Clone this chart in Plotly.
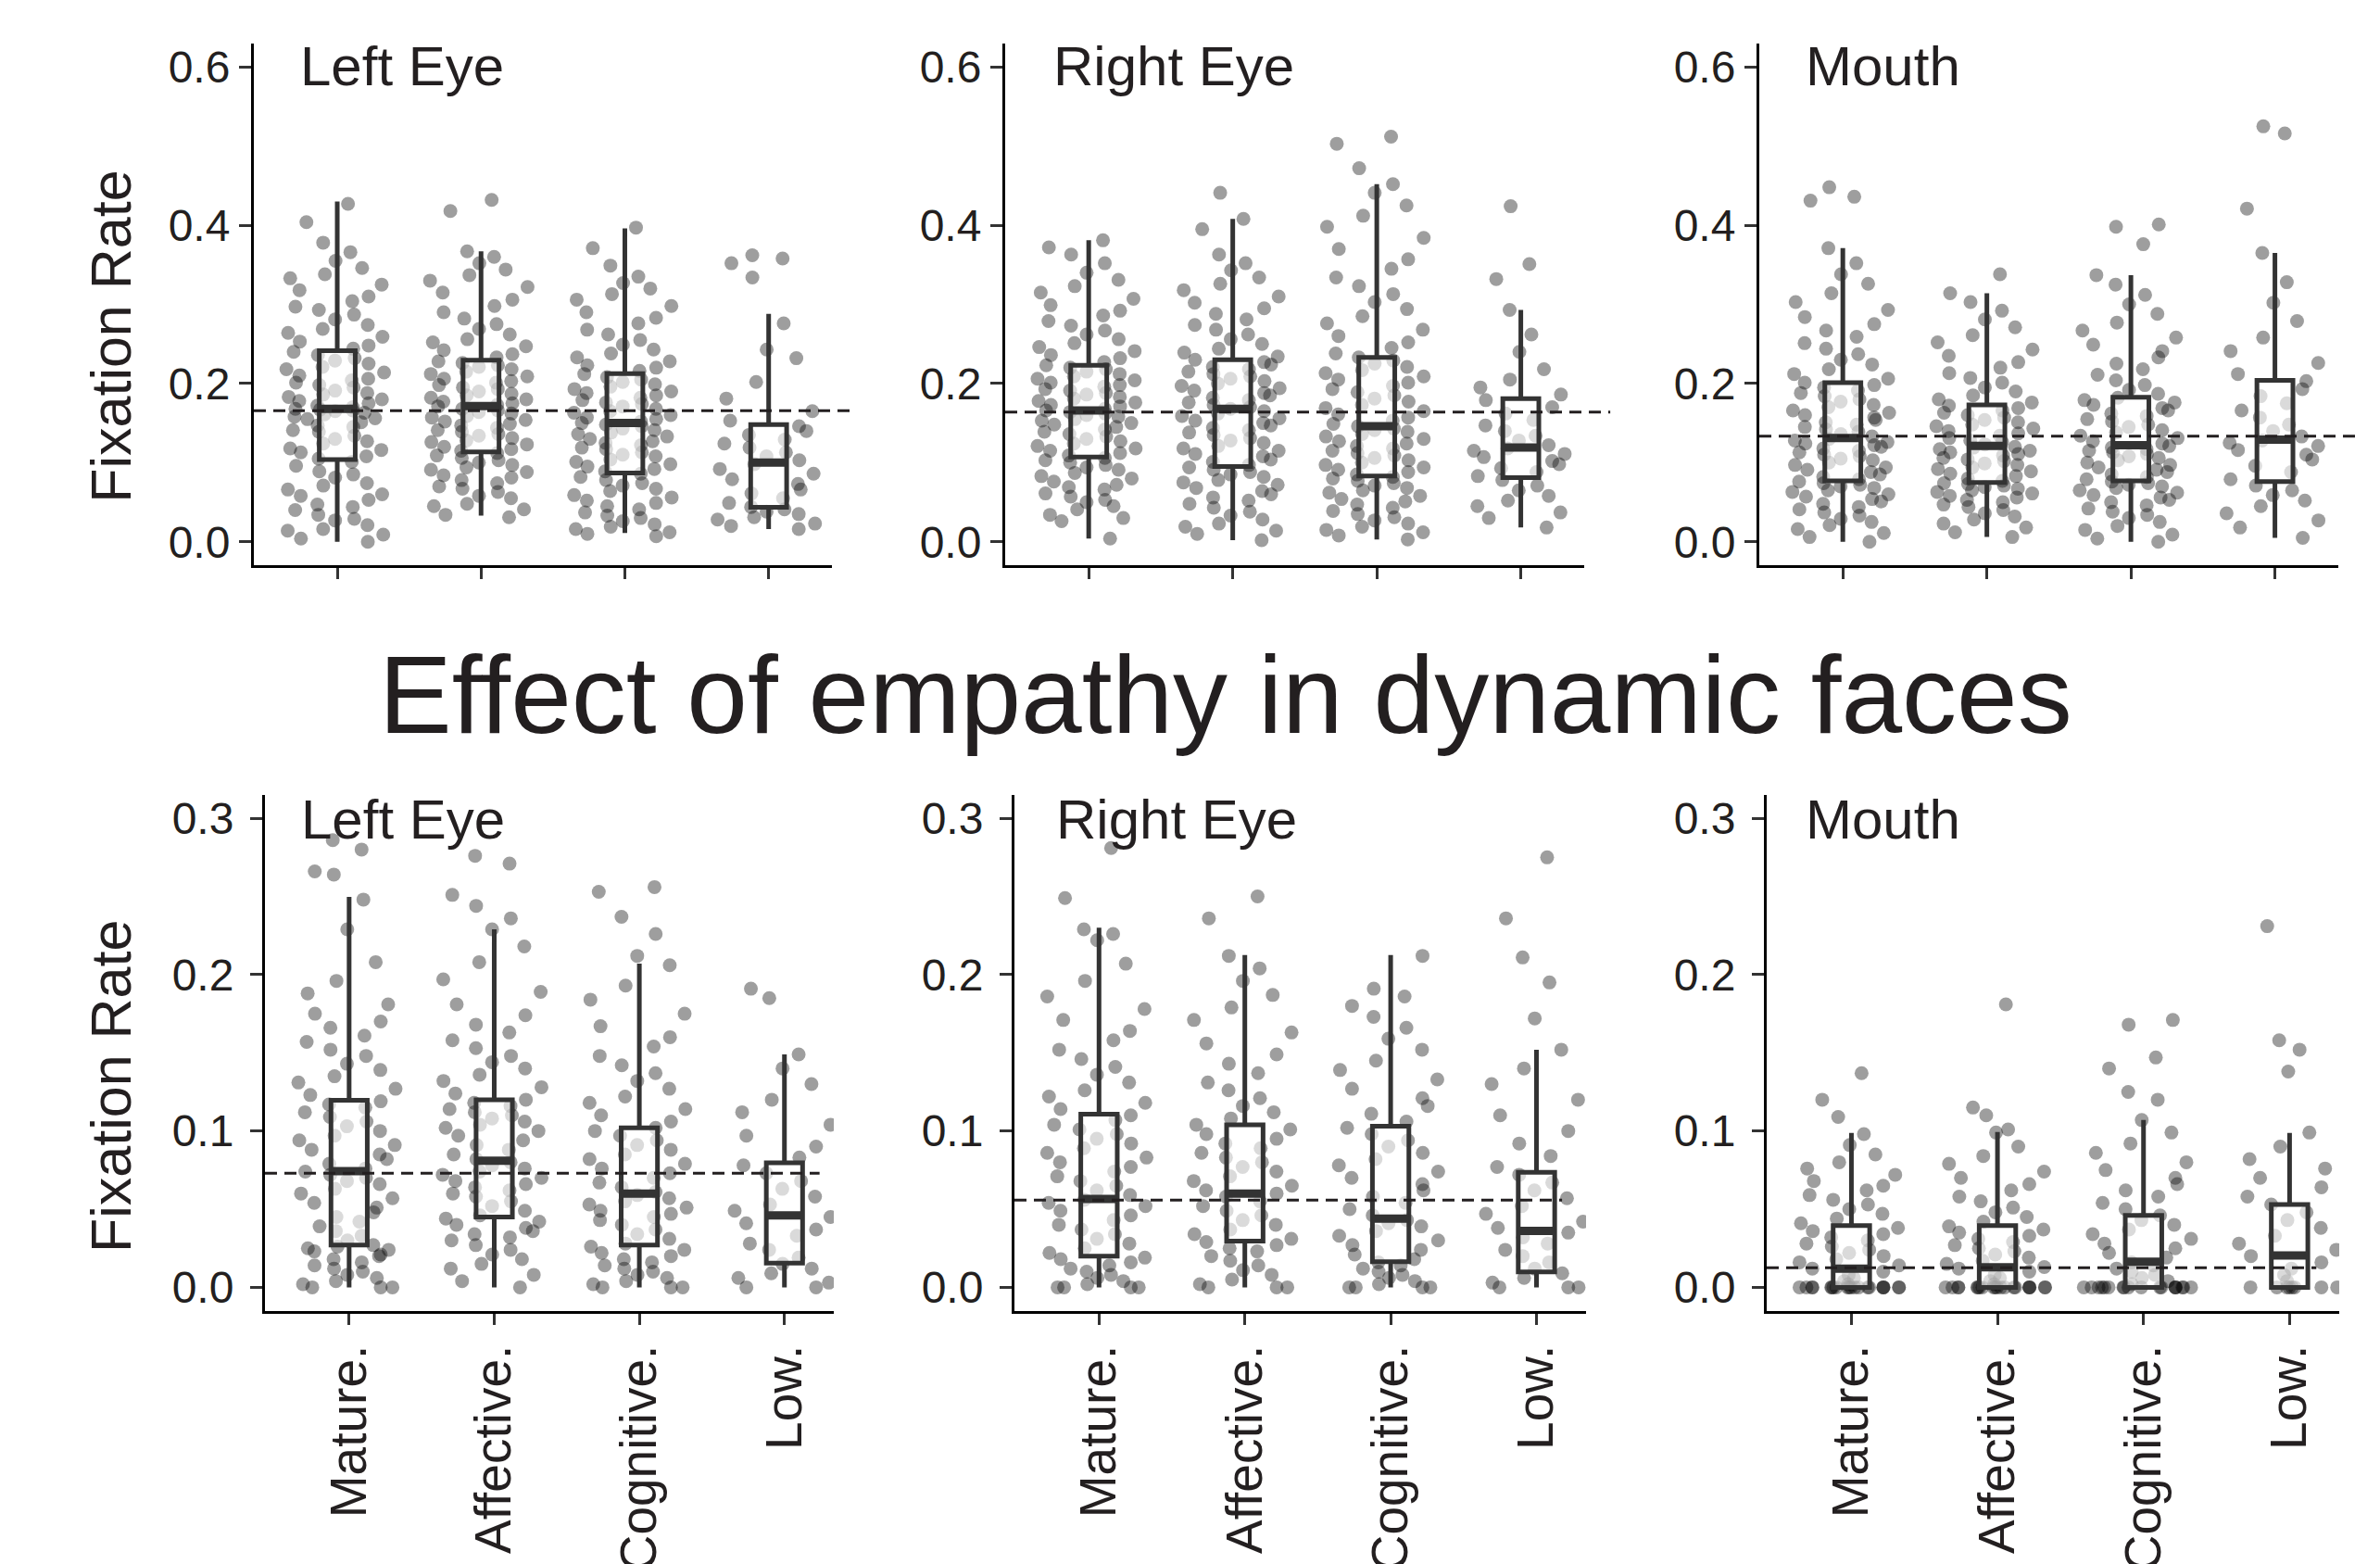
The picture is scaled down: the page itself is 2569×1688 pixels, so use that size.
import numpy as np
import plotly.graph_objects as go

W, H = 2569, 1688

categories = ["Mature.", "Affective.", "Cognitive.", "Low."]
panel_titles = ["Left Eye", "Right Eye", "Mouth"]
row_title = "Effect of empathy in dynamic faces"
y_title = "Fixation Rate"
top_tickvals = [0.0, 0.2, 0.4, 0.6]
top_ticktext = ["0.0", "0.2", "0.4", "0.6"]
bottom_tickvals = [0.0, 0.1, 0.2, 0.3]
bottom_ticktext = ["0.0", "0.1", "0.2", "0.3"]

# ---------------- static faces (top row) ----------------
# Left eye
sle_q1 = [0.104, 0.1135, 0.087, 0.0435]
sle_median = [0.168, 0.1715, 0.150, 0.100]
sle_q3 = [0.2415, 0.2295, 0.2126, 0.148]
sle_low = [0.0, 0.033, 0.011, 0.016]
sle_high = [0.430, 0.367, 0.396, 0.288]
sle_overall = 0.1657
sle_mature = [0, .004, .009, .014, .016, .021, .027, .029, .034, .040, .044, .047, .053, .058, .060, .066, .071, .074, .081, .085, .089, .096, .101,
              .105, .108, .113, .116, .118, .124, .127, .130, .134, .139, .141, .145, .147, .151, .155, .156, .158, .161, .163, .165, .166, .167, .168,
              .170, .172, .175, .178, .180, .183, .186, .188, .191, .195, .198, .201, .204, .206, .210, .214, .218, .221, .225, .229, .232, .236, .240,
              .244, .248, .253, .259, .264, .269, .274, .281, .287, .293, .297, .304, .310, .318, .325, .333, .338, .346, .355, .366, .378, .404, .427]
sle_affective = [.031, .034, .041, .045, .048, .055, .058, .063, .067, .070, .074, .078, .081, .084, .088, .091, .094, .097, .100, .103, .106, .109, .112,
                 .115, .117, .120, .123, .126, .128, .131, .134, .136, .139, .141, .144, .147, .149, .152, .154, .157, .159, .162, .164, .166, .168, .171,
                 .173, .175, .177, .180, .182, .185, .187, .190, .193, .195, .198, .201, .203, .206, .209, .212, .215, .218, .221, .223, .226, .228,
                 .233, .237, .242, .247, .252, .256, .262, .269, .275, .282, .290, .298, .306, .315, .322, .330, .337, .344, .352, .360, .367, .418, .432]
sle_cognitive = [.007, .010, .012, .016, .019, .022, .026, .030, .033, .037, .041, .045, .049, .052, .056, .059, .064, .067, .071, .074, .078, .082, .086,
                 .089, .092, .095, .098, .101, .104, .108, .110, .113, .117, .119, .122, .125, .127, .130, .133, .136, .138, .141, .143, .146, .148, .150,
                 .152, .155, .157, .160, .163, .165, .168, .171, .174, .176, .179, .182, .185, .188, .190, .193, .196, .199, .202, .205, .208, .212,
                 .216, .220, .223, .228, .233, .238, .243, .249, .255, .262, .268, .276, .283, .290, .298, .306, .313, .320, .327, .335, .349, .371, .397]
sle_lowgrp = [.016, .020, .023, .028, .031, .035, .038, .041, .044,
              .049, .055, .061, .066, .073, .079, .086, .092, .098,
              .103, .108, .113, .119, .124, .129, .135, .140, .146,
              .153, .165, .181, .202, .232, .243, .276, .334, .352, .358, .362]

# Right eye
sre_q1 = [0.107, 0.095, 0.083, 0.081]
sre_median = [0.166, 0.168, 0.146, 0.119]
sre_q3 = [0.223, 0.230, 0.233, 0.181]
sre_low = [0.004, 0.002, 0.003, 0.018]
sre_high = [0.381, 0.408, 0.452, 0.293]
sre_overall = 0.164
sre_mature = [.004, .026, .030, .034, .041, .045, .050, .053, .057, .061, .066, .069, .072, .076, .080, .083, .087, .091, .094, .097, .100, .103, .106,
              .109, .112, .115, .118, .121, .124, .127, .130, .133, .136, .139, .142, .145, .148, .150, .153, .155, .158, .160, .162, .164, .166,
              .168, .171, .173, .176, .178, .181, .183, .186, .188, .191, .193, .196, .198, .201, .204, .206, .209, .212, .215, .218, .220, .223,
              .227, .232, .236, .241, .246, .251, .256, .262, .267, .273, .279, .286, .292, .299, .307, .315, .323, .331, .340, .352, .363, .372, .381]
sre_affective = [.002, .010, .014, .019, .023, .028, .033, .038, .043, .048, .052, .056, .060, .064, .068, .072, .075, .078, .082, .085, .088, .091, .094,
                 .097, .101, .104, .108, .111, .115, .118, .121, .125, .128, .131, .135, .138, .141, .144, .147, .150, .153, .156, .159, .162, .165, .168,
                 .170, .173, .176, .179, .182, .185, .188, .191, .194, .197, .200, .203, .206, .209, .212, .215, .218, .221, .224, .227, .230,
                 .234, .239, .244, .250, .256, .262, .268, .274, .281, .288, .295, .302, .310, .318, .326, .334, .343, .352, .363, .395, .408, .441]
sre_cognitive = [.003, .008, .012, .015, .019, .023, .027, .031, .035, .039, .043, .047, .051, .054, .058, .062, .065, .068, .071, .074, .077, .080, .082,
                 .085, .088, .091, .094, .097, .100, .103, .106, .109, .112, .115, .118, .121, .124, .127, .130, .133, .136, .139, .141, .143, .146,
                 .149, .153, .157, .161, .165, .169, .173, .177, .181, .185, .189, .193, .197, .201, .205, .209, .213, .217, .221, .225, .229, .233,
                 .238, .245, .252, .260, .268, .276, .285, .294, .303, .313, .323, .334, .345, .357, .370, .384, .398, .412, .425, .441, .452, .472, .503, .512]
sre_lowgrp = [.018, .030, .037, .045, .052, .058, .065, .071, .078,
              .083, .088, .093, .098, .102, .107, .111, .115, .118,
              .122, .128, .134, .140, .147, .154, .162, .170, .179,
              .186, .195, .205, .218, .240, .262, .293, .332, .351, .424]

# Mouth
smo_q1 = [0.077, 0.075, 0.077, 0.076]
smo_median = [0.131, 0.121, 0.122, 0.129]
smo_q3 = [0.201, 0.173, 0.1825, 0.204]
smo_low = [0.0, 0.006, 0.0, 0.005]
smo_high = [0.371, 0.314, 0.337, 0.365]
smo_overall = 0.1333
smo_mature = [0, .006, .011, .016, .021, .025, .029, .033, .037, .041, .044, .048, .051, .054, .057, .060, .063, .065, .068, .070, .072, .074, .076,
              .079, .082, .085, .088, .091, .094, .097, .100, .103, .105, .108, .110, .113, .115, .118, .120, .122, .124, .126, .128, .130,
              .133, .136, .139, .142, .145, .148, .151, .154, .157, .160, .163, .166, .170, .173, .177, .180, .184, .188, .191, .195, .198, .201,
              .206, .212, .218, .224, .230, .237, .244, .251, .259, .267, .275, .284, .293, .303, .314, .326, .338, .352, .371, .431, .436, .448]
smo_affective = [.006, .012, .018, .023, .028, .032, .036, .040, .044, .047, .050, .053, .056, .058, .061, .063, .065, .067, .069, .071, .073, .074,
                 .077, .080, .083, .086, .089, .092, .094, .097, .099, .102, .104, .106, .109, .111, .113, .115, .117, .119, .120,
                 .123, .126, .128, .131, .134, .137, .140, .143, .146, .148, .151, .154, .157, .160, .163, .166, .169, .172,
                 .176, .180, .185, .190, .195, .201, .207, .213, .220, .227, .235, .243, .252, .261, .271, .281, .292, .303, .314, .338]
smo_cognitive = [0, .004, .009, .015, .020, .025, .030, .034, .038, .042, .046, .050, .053, .056, .059, .062, .065, .068, .070, .072, .074, .076,
                 .079, .082, .085, .088, .091, .094, .097, .100, .103, .106, .108, .111, .113, .115, .117, .119, .121,
                 .124, .127, .131, .134, .138, .141, .145, .148, .152, .155, .159, .162, .166, .169, .173, .176, .179, .182,
                 .187, .192, .198, .204, .211, .218, .225, .233, .241, .249, .258, .267, .277, .288, .300, .312, .325, .337, .376, .398, .401]
smo_lowgrp = [.005, .018, .027, .036, .045, .052, .059, .065, .071,
              .079, .088, .096, .104, .110, .116, .121, .125, .128,
              .133, .140, .148, .157, .166, .175, .184, .193, .203,
              .212, .226, .241, .258, .279, .302, .328, .365, .421, .516, .525]

# ---------------- dynamic faces (bottom row) ----------------
# Left eye
dle_q1 = [0.027, 0.045, 0.027, 0.0155]
dle_median = [0.0743, 0.081, 0.060, 0.046]
dle_q3 = [0.1197, 0.120, 0.102, 0.0796]
dle_low = [0.0, 0.0, 0.0, 0.0]
dle_high = [0.2497, 0.229, 0.207, 0.149]
dle_overall = 0.073
dle_mature = [0, 0, 0, .002, .004, .006, .008, .010, .012, .014, .016, .018, .020, .021, .023, .024, .025, .026, .027,
              .030, .033, .036, .039, .042, .045, .048, .051, .054, .057, .060, .063, .066, .068, .070, .072, .074,
              .076, .079, .082, .085, .088, .091, .094, .097, .100, .103, .106, .109, .112, .115, .117, .119,
              .123, .127, .131, .135, .139, .143, .148, .152, .157, .161, .166, .170, .175, .181, .188, .196, .208, .229, .248, .264, .266, .280, .286]
dle_affective = [0, .004, .008, .012, .015, .018, .021, .024, .027, .030, .032, .034, .036, .038, .040, .042, .044,
                 .046, .049, .052, .055, .058, .060, .062, .064, .066, .068, .070, .072, .074, .076, .078, .080,
                 .082, .085, .088, .091, .094, .097, .100, .102, .104, .106, .108, .110, .112, .114, .116, .118, .120,
                 .124, .128, .132, .136, .140, .144, .148, .153, .158, .163, .168, .174, .181, .189, .197, .208, .218, .229, .236, .244, .251, .271, .276]
dle_cognitive = [0, 0, 0, .002, .004, .006, .008, .010, .012, .014, .016, .018, .020, .022, .024, .026,
                 .028, .031, .034, .037, .040, .043, .045, .047, .049, .051, .053, .055, .057, .059,
                 .061, .064, .067, .070, .073, .076, .079, .082, .085, .088, .091, .094, .097, .100, .102,
                 .106, .110, .114, .118, .122, .127, .132, .137, .142, .148, .154, .160, .167, .175, .184, .193, .206, .212, .226, .237, .253, .256]
dle_lowgrp = [0, 0, .003, .006, .009, .012, .015,
              .019, .024, .028, .033, .037, .041, .045,
              .049, .053, .058, .063, .068, .073, .078,
              .083, .090, .097, .104, .112, .120, .130, .140, .149, .185, .191]

# Right eye
dre_q1 = [0.020, 0.0296, 0.0164, 0.0099]
dre_median = [0.0565, 0.060, 0.044, 0.0361]
dre_q3 = [0.1107, 0.104, 0.103, 0.0736]
dre_low = [0.0, 0.0, 0.0, 0.0]
dre_high = [0.230, 0.2125, 0.2125, 0.152]
dre_overall = 0.0558
dre_mature = [0, 0, 0, 0, .002, .004, .006, .008, .010, .012, .014, .016, .018, .019,
              .022, .025, .028, .031, .034, .037, .040, .043, .046, .049, .052, .054, .056,
              .059, .062, .065, .068, .071, .074, .077, .080, .083, .086, .089, .092, .095, .098, .101, .104, .107, .110,
              .114, .118, .122, .126, .131, .136, .141, .146, .152, .158, .164, .171, .178, .186, .196, .207, .222, .226, .229, .249, .281]
dre_affective = [0, 0, 0, .002, .005, .008, .011, .014, .017, .020, .023, .025, .027, .029,
                 .031, .034, .037, .040, .043, .046, .049, .052, .055, .058, .060,
                 .062, .065, .068, .071, .074, .077, .080, .083, .086, .089, .092, .095, .098, .101, .104,
                 .108, .112, .116, .121, .126, .131, .137, .143, .149, .156, .163, .171, .179, .187, .196, .204, .212, .236, .250]
dre_cognitive = [0, 0, 0, 0, .002, .004, .006, .008, .010, .012, .014, .016,
                 .018, .021, .024, .027, .030, .033, .036, .039, .041, .043,
                 .046, .050, .054, .058, .062, .066, .070, .074, .078, .082, .086, .090, .094, .098, .102,
                 .106, .111, .116, .121, .127, .133, .139, .145, .152, .159, .166, .173, .180, .186, .191, .212]
dre_lowgrp = [0, 0, 0, .003, .006, .009,
              .012, .016, .020, .024, .028, .032, .035,
              .038, .042, .047, .052, .057, .062, .067, .072,
              .077, .084, .092, .100, .110, .120, .130, .140, .152, .172, .195, .211, .236, .275]

# Mouth
dmo_q1 = [0.0, 0.0, 0.0, 0.0]
dmo_median = [0.012, 0.0128, 0.0164, 0.0204]
dmo_q3 = [0.0395, 0.0395, 0.046, 0.053]
dmo_low = [0.0, 0.0, 0.0, 0.0]
dmo_high = [0.0987, 0.0993, 0.107, 0.0987]
dmo_overall = 0.0125
dmo_mature = [0, 0, 0, 0, 0, 0, 0, 0, 0, 0, 0, 0, 0, 0, 0, 0, 0, 0, 0, 0,
              .002, .004, .006, .008, .010, .012, .014, .016, .018, .020, .022, .024, .026, .028, .030, .032, .034, .036, .038,
              .041, .044, .047, .050, .053, .056, .059, .062, .065, .068, .072, .076, .080, .085, .091, .098, .109, .120, .137]
dmo_affective = [0, 0, 0, 0, 0, 0, 0, 0, 0, 0, 0, 0, 0, 0, 0, 0, 0, 0, 0, 0,
                 .002, .004, .006, .008, .010, .012, .013, .015, .017, .019, .021, .023, .025, .027, .029, .031, .033, .035, .037, .039,
                 .042, .045, .048, .051, .055, .058, .062, .066, .070, .074, .079, .084, .090, .099, .101, .110, .115, .181]
dmo_cognitive = [0, 0, 0, 0, 0, 0, 0, 0, 0, 0, 0, 0, 0, 0, 0, 0, 0, 0,
                 .002, .004, .006, .008, .010, .012, .014, .016, .019, .022, .025, .028, .031, .034, .037, .040, .043, .046,
                 .050, .054, .058, .062, .066, .070, .075, .080, .086, .092, .099, .107, .120, .125, .140, .147, .168, .171]
dmo_lowgrp = [0, 0, 0, 0, 0, 0, 0, 0,
              .004, .008, .012, .016, .020, .024, .028, .033, .038, .043, .048, .053,
              .058, .064, .070, .076, .082, .090, .099, .138, .152, .158, .231]

# ---------------- assembly ----------------
panels = [
    dict(pts=[sle_mature, sle_affective, sle_cognitive, sle_lowgrp], q1=sle_q1, med=sle_median, q3=sle_q3,
         lo=sle_low, hi=sle_high, ref=sle_overall, row=0, col=0),
    dict(pts=[sre_mature, sre_affective, sre_cognitive, sre_lowgrp], q1=sre_q1, med=sre_median, q3=sre_q3,
         lo=sre_low, hi=sre_high, ref=sre_overall, row=0, col=1),
    dict(pts=[smo_mature, smo_affective, smo_cognitive, smo_lowgrp], q1=smo_q1, med=smo_median, q3=smo_q3,
         lo=smo_low, hi=smo_high, ref=smo_overall, row=0, col=2),
    dict(pts=[dle_mature, dle_affective, dle_cognitive, dle_lowgrp], q1=dle_q1, med=dle_median, q3=dle_q3,
         lo=dle_low, hi=dle_high, ref=dle_overall, row=1, col=0),
    dict(pts=[dre_mature, dre_affective, dre_cognitive, dre_lowgrp], q1=dre_q1, med=dre_median, q3=dre_q3,
         lo=dre_low, hi=dre_high, ref=dre_overall, row=1, col=1),
    dict(pts=[dmo_mature, dmo_affective, dmo_cognitive, dmo_lowgrp], q1=dmo_q1, med=dmo_median, q3=dmo_q3,
         lo=dmo_low, hi=dmo_high, ref=dmo_overall, row=1, col=2),
]

# layout geometry (pixels)
x_px = {0: [(266, 890), (1077, 1702), (1891, 2516)],
        1: [(278, 892), (1087, 1704), (1899, 2517)]}
y_px = {0: (40, 623), 1: (879, 1455)}
x_ranges = {0: [-0.58, 3.44], 1: [-0.58, 3.34]}
y_ranges = {0: [-0.03, 0.63], 1: [-0.015, 0.315]}
dash_end = {0: [1.034, 1.045, 1.039], 1: [0.975, 0.958, 0.96]}
title_px = {0: [(315, 62.5), (1128, 62.5), (1940, 62.5)],
            1: [(316, 903.5), (1131, 903.5), (1940, 903.5)]}
ytitle_px = {0: (112, 368), 1: (112, 1205)}
y_standoff = {0: 0, 1: 8}

FONT = "Liberation Sans, Arial, Helvetica, sans-serif"
TXT = "#231f20"
PT_COLOR = "rgba(0,0,0,0.38)"

fig = go.Figure()
point_traces, box_traces, med_traces = [], [], []


def chunked(vals, size=12):
    v = sorted(vals)
    n = max(1, int(round(len(v) / size)))
    return [list(c) for c in np.array_split(np.array(v), n)]


for k, p in enumerate(panels):
    xa = "x" if k == 0 else f"x{k + 1}"
    ya = "y" if k == 0 else f"y{k + 1}"
    for ci, cat in enumerate(categories):
        for chunk in chunked(p["pts"][ci]):
            point_traces.append(go.Box(
                x=[cat] * len(chunk), y=chunk, xaxis=xa, yaxis=ya,
                boxpoints="all", jitter=1, pointpos=0, width=0.84,
                fillcolor="rgba(0,0,0,0)", line=dict(width=0, color="rgba(0,0,0,0)"),
                whiskerwidth=0,
                marker=dict(size=15, color=PT_COLOR, line=dict(width=0)),
                showlegend=False, hoverinfo="skip"))
    box_traces.append(go.Box(
        x=categories, q1=p["q1"], median=p["med"], q3=p["q3"],
        lowerfence=p["lo"], upperfence=p["hi"], xaxis=xa, yaxis=ya,
        boxpoints=False, width=0.25, whiskerwidth=0,
        fillcolor="rgba(255,255,255,0.62)", line=dict(color="#333333", width=5),
        showlegend=False, hoverinfo="skip"))
    med_traces.append(go.Box(
        x=categories, q1=p["med"], median=p["med"], q3=p["med"],
        lowerfence=p["med"], upperfence=p["med"], xaxis=xa, yaxis=ya,
        boxpoints=False, width=0.25, whiskerwidth=0,
        fillcolor="rgba(0,0,0,0)", line=dict(color="#333333", width=9),
        showlegend=False, hoverinfo="skip"))

for t in point_traces + box_traces + med_traces:
    fig.add_trace(t)

layout = dict(width=W, height=H, margin=dict(l=0, r=0, t=0, b=0),
              paper_bgcolor="white", plot_bgcolor="white", boxmode="overlay",
              showlegend=False, font=dict(family=FONT, color=TXT))
shapes, annotations = [], []
for k, p in enumerate(panels):
    r, c = p["row"], p["col"]
    x0, x1 = x_px[r][c]
    yt, yb = y_px[r]
    xname = "xaxis" if k == 0 else f"xaxis{k + 1}"
    yname = "yaxis" if k == 0 else f"yaxis{k + 1}"
    xa = "x" if k == 0 else f"x{k + 1}"
    ya = "y" if k == 0 else f"y{k + 1}"
    layout[xname] = dict(
        domain=[x0 / W, x1 / W], anchor=ya, type="category",
        categoryorder="array", categoryarray=categories, range=x_ranges[r],
        showline=True, linecolor="black", linewidth=3, mirror=False,
        ticks="outside", ticklen=12, tickwidth=3, tickcolor="#333333",
        showgrid=False, zeroline=False, fixedrange=True,
        showticklabels=(r == 1), tickangle=-90, ticklabelstandoff=0,
        tickfont=dict(family=FONT, size=55, color=TXT))
    layout[yname] = dict(
        domain=[1 - yb / H, 1 - yt / H], anchor=xa, range=y_ranges[r],
        showline=True, linecolor="black", linewidth=3,
        ticks="outside", ticklen=13, tickwidth=3, tickcolor="#333333",
        tickvals=top_tickvals if r == 0 else bottom_tickvals,
        ticktext=top_ticktext if r == 0 else bottom_ticktext,
        showgrid=False, zeroline=False, fixedrange=True, ticklabelstandoff=y_standoff[r],
        tickfont=dict(family=FONT, size=48, color=TXT))
    shapes.append(dict(type="line", xref=f"{xa} domain", yref=ya,
                       x0=0, x1=dash_end[r][c], y0=p["ref"], y1=p["ref"],
                       line=dict(color=TXT, width=3, dash="13px,8px")))
    tx, ty = title_px[r][c]
    annotations.append(dict(text=panel_titles[c], xref="paper", yref="paper",
                            x=tx / W, y=1 - (ty + 3) / H, xanchor="left", yanchor="middle",
                            showarrow=False, borderpad=0,
                            font=dict(family=FONT, size=60, color=TXT)))

for r in (0, 1):
    ax, ay = ytitle_px[r]
    annotations.append(dict(text=y_title, xref="paper", yref="paper",
                            x=ax / W, y=1 - ay / H, xanchor="center", yanchor="middle",
                            textangle=-90, showarrow=False, borderpad=0,
                            font=dict(family=FONT, size=61, color=TXT)))

annotations.append(dict(text=row_title, xref="paper", yref="paper",
                        x=1314.5 / W, y=1 - 767.5 / H, xanchor="center", yanchor="middle",
                        showarrow=False, borderpad=0,
                        font=dict(family=FONT, size=118, color=TXT)))

layout["shapes"] = shapes
layout["annotations"] = annotations
fig.update_layout(**layout)
fig.write_html("out.html")
